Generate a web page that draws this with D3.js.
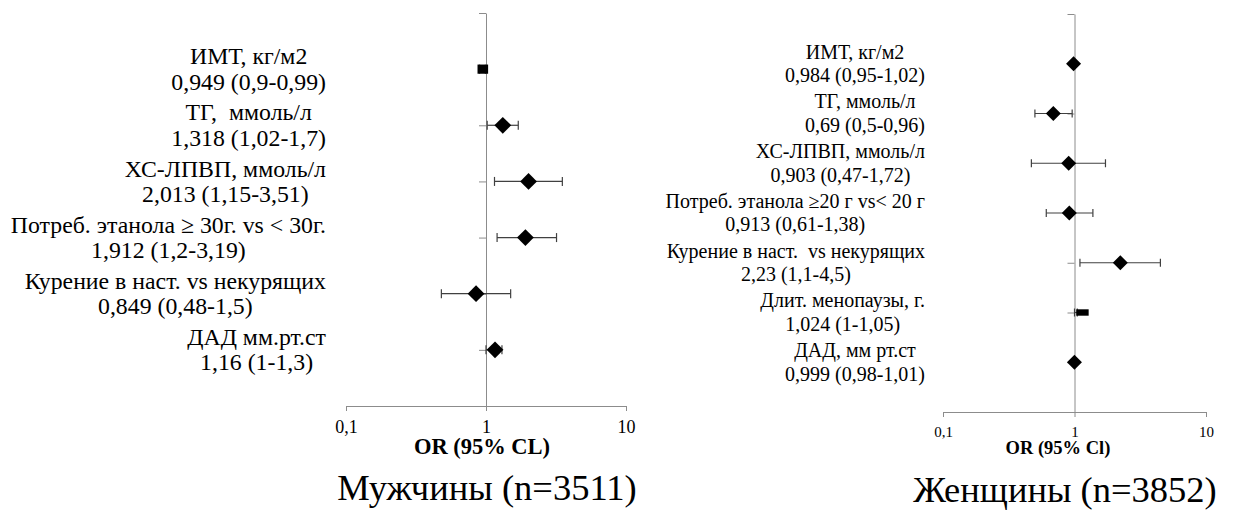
<!DOCTYPE html>
<html>
<head>
<meta charset="utf-8">
<script src="https://cdn.jsdelivr.net/npm/d3@7"></script>
<style>
  html, body { margin: 0; padding: 0; background: #fff; }
</style>
</head>
<body>
<svg id="chart" width="1235" height="515"></svg>
<script>
// ---------- DATA ----------
const menLabels = ["ИМТ, кг/м2", "ТГ,  ммоль/л", "ХС-ЛПВП, ммоль/л",
  "Потреб. этанола ≥ 30г. vs < 30г.", "Курение в наст. vs некурящих", "ДАД мм.рт.ст"];
const menOR   = [0.949, 1.318, 2.013, 1.912, 0.849, 1.16];
const menLow  = [0.9,   1.02,  1.15,  1.2,   0.48,  1];
const menHigh = [0.99,  1.7,   3.51,  3.19,  1.5,   1.3];

const womenLabels = ["ИМТ, кг/м2", "ТГ, ммоль/л", "ХС-ЛПВП, ммоль/л",
  "Потреб. этанола ≥20 г vs< 20 г", "Курение в наст.  vs некурящих",
  "Длит. менопаузы, г.", "ДАД, мм рт.ст"];
const womenOR   = [0.984, 0.69, 0.903, 0.913, 2.23, 1.024, 0.999];
const womenLow  = [0.95,  0.5,  0.47,  0.61,  1.1,  1,     0.98];
const womenHigh = [1.02,  0.96, 1.72,  1.38,  4.5,  1.05,  1.01];

const xTicks = [0.1, 1, 10];
const menTitle = "Мужчины (n=3511)";
const womenTitle = "Женщины (n=3852)";
const menAxisTitle = "OR (95% CL)";
const womenAxisTitle = "OR (95% Cl)";

// ---------- HELPERS ----------
const SERIF = '"Liberation Serif", monospace';
const svg = d3.select("#chart");
const fmt = v => String(v).replace(".", ",");
const keepSpaces = s => s.replace(/ {2}/g, " \u00A0");
const AXIS_COLOR = "#8c8c8c";
const ERR_COLOR = "#404040";

function serifText(sel, size, weight) {
  sel.style("font-family", SERIF).style("font-size", size + "px").attr("fill", "#000");
  if (weight) sel.style("font-weight", weight);
  return sel;
}

function diamondPath(cx, cy, h) {
  return `M${cx},${cy - h}L${cx + h},${cy}L${cx},${cy + h}L${cx - h},${cy}Z`;
}

function drawPanel(cfg) {
  const g = svg.append("g");
  const n = cfg.labels.length;
  const x = d3.scaleLog().domain([0.1, 10]).range([cfg.x0, cfg.x1]);
  const y = d3.scaleLinear().domain([0, n + 1]).range([cfg.yBottom, cfg.yTop]);
  const rowVal = i => n - i; // first item on top

  // vertical axis at OR = 1
  const yAxis = d3.axisLeft(y).tickValues(d3.range(0, n + 2)).tickSize(cfg.rowTick)
    .tickSizeOuter(0).tickFormat("");
  const ya = g.append("g").attr("transform", `translate(${x(1)},0)`).call(yAxis);
  ya.selectAll("path, line").attr("stroke", AXIS_COLOR).attr("stroke-width", 1);

  // horizontal axis
  const xAxis = d3.axisBottom(x).tickValues(xTicks).tickSize(cfg.xTick).tickSizeOuter(0)
    .tickFormat(d => fmt(d)).tickPadding(cfg.tickPad);
  const xa = g.append("g").attr("transform", `translate(0,${cfg.yBottom})`).call(xAxis);
  xa.attr("font-family", null).attr("font-size", null);
  xa.selectAll("path, line").attr("stroke", AXIS_COLOR).attr("stroke-width", 1);
  serifText(xa.selectAll("text"), cfg.tickFs);

  // axis title
  serifText(g.append("text"), cfg.axisTitleFs, "bold")
    .attr("x", cfg.axisTitleX).attr("y", cfg.axisTitleY)
    .attr("text-anchor", "middle").text(cfg.axisTitle);

  // panel title
  serifText(g.append("text"), cfg.titleFs)
    .attr("x", cfg.titleX).attr("y", cfg.titleY)
    .attr("text-anchor", "middle").text(cfg.title);

  // error bars
  const rows = cfg.labels.map((lab, i) => ({
    i, lab, or: cfg.or[i], lo: cfg.low[i], hi: cfg.high[i], yv: y(rowVal(i))
  }));
  const eb = g.append("g").attr("stroke", ERR_COLOR).attr("stroke-width", 1.2);
  rows.forEach(r => {
    eb.append("line").attr("x1", x(r.lo)).attr("x2", x(r.hi)).attr("y1", r.yv).attr("y2", r.yv);
    [r.lo, r.hi].forEach(v => {
      eb.append("line").attr("x1", x(v)).attr("x2", x(v))
        .attr("y1", r.yv - cfg.cap / 2).attr("y2", r.yv + cfg.cap / 2);
    });
  });

  // markers
  rows.forEach(r => {
    const shape = (cfg.shapes && cfg.shapes[r.i]) || "diamond";
    const cx = x(r.or), cy = r.yv;
    if (shape === "diamond") {
      g.append("path").attr("d", diamondPath(cx, cy, cfg.dHalf)).attr("fill", "#000");
    } else if (shape === "square") {
      g.append("rect").attr("x", cx - 5.3).attr("y", cy - 4.6).attr("width", 10.6)
        .attr("height", 9.2).attr("fill", "#000");
    } else if (shape === "dash") {
      g.append("rect").attr("x", cx + 0.4).attr("y", cy - 3.2).attr("width", 12.4)
        .attr("height", 6.4).attr("fill", "#000");
    }
  });

  // labels (two lines, centred on their own box whose right edge is fixed)
  rows.forEach(r => {
    const base = r.yv + cfg.labelFs * 0.33;
    const t1 = serifText(g.append("text"), cfg.labelFs).text(keepSpaces(r.lab));
    const t2 = serifText(g.append("text"), cfg.labelFs)
      .text(`${fmt(r.or)} (${fmt(r.lo)}-${fmt(r.hi)})`);
    const w = Math.max(t1.node().getComputedTextLength(), t2.node().getComputedTextLength());
    const cx = cfg.labelRight - w / 2;
    t1.attr("text-anchor", "middle").attr("x", cx).attr("y", base - cfg.labelLh / 2);
    t2.attr("text-anchor", "middle").attr("x", cx).attr("y", base + cfg.labelLh / 2);
  });
}

drawPanel({
  labels: menLabels, or: menOR, low: menLow, high: menHigh,
  shapes: { 0: "square" },
  x0: 346, x1: 626, yTop: 13, yBottom: 406,
  rowTick: 7, xTick: 5, tickPad: 9, tickFs: 18,
  axisTitle: menAxisTitle, axisTitleX: 482, axisTitleY: 454, axisTitleFs: 22.5,
  title: menTitle, titleX: 487, titleY: 500, titleFs: 36.5,
  cap: 9, dHalf: 8.4,
  labelFs: 23.8, labelLh: 25.5, labelRight: 326
});

drawPanel({
  labels: womenLabels, or: womenOR, low: womenLow, high: womenHigh,
  shapes: { 5: "dash" },
  x0: 943, x1: 1206, yTop: 14, yBottom: 412,
  rowTick: 7, xTick: 5, tickPad: 9, tickFs: 15,
  axisTitle: womenAxisTitle, axisTitleX: 1058, axisTitleY: 454, axisTitleFs: 18.5,
  title: womenTitle, titleX: 1065, titleY: 502, titleFs: 36.5,
  cap: 8, dHalf: 7.5,
  labelFs: 20, labelLh: 23.5, labelRight: 925
});
</script>
</body>
</html>
